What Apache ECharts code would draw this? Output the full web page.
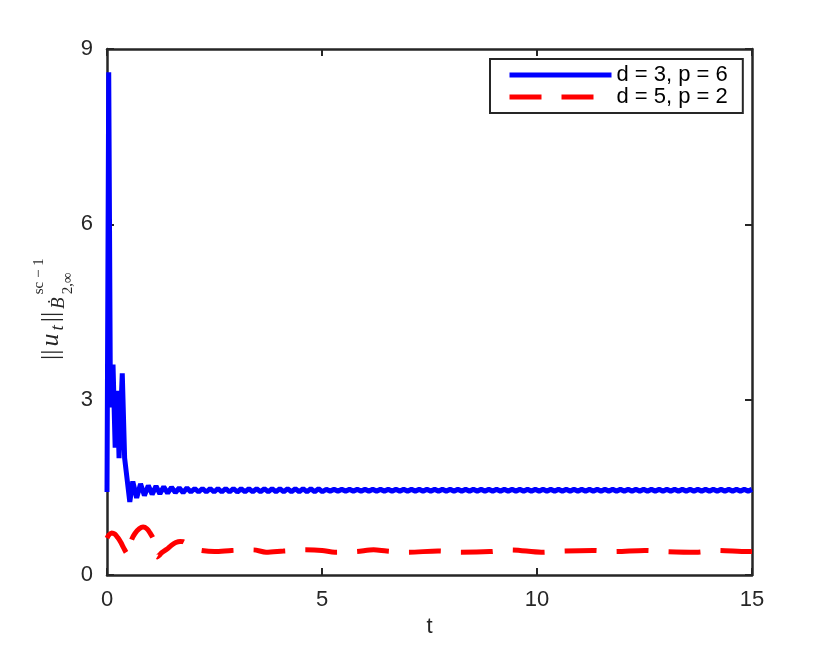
<!DOCTYPE html>
<html>
<head>
<meta charset="utf-8">
<script src="https://cdn.jsdelivr.net/npm/echarts@6/dist/echarts.min.js"></script>
</head>
<body style="margin:0;background:#fff">
<div id="container" style="width:830px;height:646px"></div>
<script>
var seriesNames = ['d = 3, p = 6', 'd = 5, p = 2'];
var xTickStep = 5, xMax = 15;
var yTickStep = 3, yMax = 9;

// d = 3, p = 6 : spike near t = 0 then damped zigzag
var blueT = [0, 0.04, 0.08, 0.14, 0.19, 0.24, 0.28, 0.355, 0.41, 0.45, 0.53, 0.60, 0.69, 0.78, 0.87, 0.96,
  1.05, 1.14, 1.23, 1.32, 1.41, 1.50, 1.59, 1.68, 1.77, 1.86, 1.95, 2.04];
var blueV = [1.42, 8.6, 2.87, 3.6, 2.18, 3.15, 2.0, 3.45, 2.0, 1.75, 1.25, 1.60, 1.32, 1.56, 1.36, 1.53,
  1.38, 1.52, 1.39, 1.51, 1.40, 1.50, 1.41, 1.49, 1.41, 1.49, 1.42, 1.48];
// after that the ripple is read every 0.09 from t = 2.13
var blueTailStart = 2.13, blueTailStep = 0.09;
var blueTail = [
  1.42, 1.48, 1.42, 1.48, 1.42, 1.48, 1.42, 1.48, 1.42, 1.48, 1.42,
  1.475, 1.425, 1.475, 1.425, 1.475, 1.425, 1.475, 1.425, 1.475, 1.425, 1.475,
  1.425, 1.475, 1.425, 1.475, 1.425, 1.475, 1.425, 1.475, 1.425, 1.475, 1.425,
  1.465, 1.435, 1.465, 1.435, 1.465, 1.435, 1.465, 1.435, 1.465, 1.435,
  1.465, 1.435, 1.465, 1.435, 1.465, 1.435, 1.465, 1.435, 1.465, 1.435,
  1.465, 1.435, 1.465, 1.435, 1.465, 1.435, 1.465, 1.435, 1.465, 1.435,
  1.465, 1.435, 1.465, 1.435, 1.465, 1.435, 1.465, 1.435, 1.465, 1.435,
  1.465, 1.435, 1.465, 1.435, 1.465, 1.435, 1.465, 1.435, 1.465, 1.435,
  1.465, 1.435, 1.465, 1.435, 1.465, 1.435, 1.465, 1.435, 1.465, 1.435,
  1.465, 1.435, 1.465, 1.435, 1.465, 1.435, 1.465, 1.435, 1.465, 1.435,
  1.465, 1.435, 1.465, 1.435, 1.465, 1.435, 1.465, 1.435, 1.465, 1.435,
  1.465, 1.435, 1.465, 1.435, 1.465, 1.435, 1.465, 1.435, 1.465, 1.435,
  1.465, 1.435, 1.465, 1.435, 1.465, 1.435, 1.465, 1.435, 1.465, 1.435,
  1.465, 1.435, 1.465, 1.435, 1.465, 1.435, 1.465, 1.435, 1.465, 1.435,
  1.465
];

// d = 5, p = 2
var redT = [0, 0.05, 0.11, 0.18, 0.25, 0.32, 0.39, 0.46, 0.51, 0.54, 0.57, 0.65, 0.75, 0.84, 0.93, 1.00,
  1.075, 1.12, 1.17, 1.22, 1.27, 1.39, 1.50, 1.60, 1.70, 1.77, 1.90, 2.05, 2.18, 2.5, 2.9, 3.4, 3.7,
  4.1, 4.6, 5.0, 5.3, 5.8, 6.2, 6.5, 7.0, 7.7, 8.2, 8.9, 9.4, 10.1, 10.6, 11.3, 11.8, 12.5, 13.0,
  13.7, 14.2, 14.9, 15];
var redV = [0.63, 0.69, 0.72, 0.70, 0.64, 0.56, 0.46, 0.37, 0.34, 0.47, 0.60, 0.71, 0.79, 0.82, 0.79, 0.72,
  0.62, 0.46, 0.31, 0.34, 0.38, 0.44, 0.51, 0.555, 0.575, 0.57, 0.51, 0.45, 0.42, 0.40, 0.42, 0.43, 0.39,
  0.41, 0.43, 0.42, 0.39, 0.40, 0.43, 0.41, 0.39, 0.41, 0.39, 0.40, 0.43, 0.39, 0.41, 0.42, 0.40, 0.42, 0.40,
  0.39, 0.42, 0.40, 0.40];

var bluePts = blueT.map(function (t, i) { return [t, blueV[i]]; });
blueTail.forEach(function (v, i) { bluePts.push([+(blueTailStart + i * blueTailStep).toFixed(2), v]); });
var redPts = redT.map(function (t, i) { return [t, redV[i]]; });

var axisColor = '#262626';
var sans = '"Liberation Sans", Arial, Helvetica, sans-serif';
var serif = '"Liberation Serif", "Times New Roman", serif';

function boxAxis(pos, max, step, labels) {
  return {
    type: 'value', position: pos, min: 0, max: max, interval: step,
    axisLine: { show: true, onZero: false, lineStyle: { color: axisColor, width: 2.5 } },
    axisTick: { show: true, inside: true, length: 7, lineStyle: { color: axisColor, width: 2 } },
    axisLabel: { show: labels, fontSize: 22, color: axisColor, fontFamily: sans, margin: 14 },
    splitLine: { show: false }
  };
}

var xBottom = boxAxis('bottom', xMax, xTickStep, true);
xBottom.name = 't';
xBottom.nameLocation = 'middle';
xBottom.nameGap = 38;
xBottom.nameTextStyle = { fontSize: 22, color: axisColor, fontFamily: sans };

// y label ||u_t||_{B^{sc-1}_{2,inf}} built from small text pieces, rotated
var meas = document.createElement('canvas').getContext('2d');
function textW(txt, font) { meas.font = font; return meas.measureText(txt).width; }
var labelParts = [
  { t: '||', size: 26, it: false, dy: 0 },
  { t: 'u', size: 26, it: true, dy: 0 },
  { t: 't', size: 19, it: true, dy: 3 },
  { t: '||', size: 26, it: false, dy: 0 },
  { t: 'Ḃ', size: 19, it: true, dy: 4 },
  { t: 'sc − 1', size: 15, it: false, dy: -17, sup: true },
  { t: '2,∞', size: 15, it: false, dy: 12, sub: true }
];
var labelChildren = [];
var cx = 0, stackX = 0;
labelParts.forEach(function (p) {
  var font = (p.it ? 'italic ' : '') + p.size + 'px ' + serif;
  if (p.sup) stackX = cx;
  var x = p.sub ? stackX : cx;
  labelChildren.push({
    type: 'text', x: x, y: p.dy,
    style: { text: p.t, font: font, fill: axisColor, verticalAlign: 'bottom' }
  });
  cx = x + textW(p.t, font) + 3;
});

var chart = echarts.init(document.getElementById('container'), null, { renderer: 'canvas' });
chart.setOption({
  animation: false,
  backgroundColor: '#fff',
  grid: { left: 107, top: 49, right: 78, bottom: 71, outerBoundsMode: 'none' },
  xAxis: [xBottom, boxAxis('top', xMax, xTickStep, false)],
  yAxis: [boxAxis('left', yMax, yTickStep, true), boxAxis('right', yMax, yTickStep, false)],
  legend: {
    orient: 'vertical', left: 490, top: 59,
    padding: [5, 15, 5, 17], itemGap: 0, itemWidth: 102, itemHeight: 22,
    borderColor: axisColor, borderWidth: 2, backgroundColor: '#fff',
    selectedMode: false,
    textStyle: { fontSize: 22, color: '#000', fontFamily: sans, lineHeight: 22 },
    itemStyle: { color: 'rgba(0,0,0,0)', borderWidth: 0 },
    lineStyle: { width: 5 },
    data: seriesNames
  },
  graphic: [{
    type: 'group', x: 64, y: 360, rotation: Math.PI / 2,
    children: labelChildren
  }],
  series: [
    {
      name: seriesNames[0], type: 'line', data: bluePts, symbol: 'none',
      lineStyle: { color: '#0000ff', width: 5 }, itemStyle: { color: '#0000ff' }
    },
    {
      name: seriesNames[1], type: 'line', data: redPts, symbol: 'none', smooth: 0.3,
      lineStyle: { color: '#ff0000', width: 5, type: [32, 20] }, itemStyle: { color: '#ff0000' }
    }
  ]
});
</script>
</body>
</html>
